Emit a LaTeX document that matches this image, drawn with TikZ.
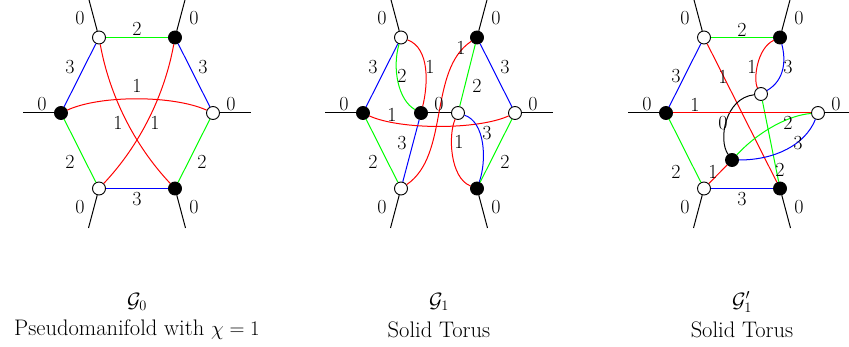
\documentclass[tikz,border=0pt]{standalone}
\usepackage{amsmath}
\begin{document}
\begin{tikzpicture}[x=1pt,y=-1pt,line width=1pt,
  every node/.style={font=\fontsize{20}{24}\selectfont},
  wv/.style={circle,draw=black,fill=white,inner sep=0pt,minimum size=13pt,line width=0.9pt},
  bv/.style={circle,draw=black,fill=black,inner sep=0pt,minimum size=13pt,line width=0.9pt},
  lab/.style={inner sep=0pt},
  captext/.style={font=\fontsize{22.5}{27}\selectfont,inner sep=0pt}]
\useasboundingbox (0,0) rectangle (849,347);

% ---------------- G0 ----------------
\begin{scope}[shift={(137,0)}]
\node[wv] (a-tl) at (-38,37.5) {};
\node[bv] (a-tr) at (38,37.5) {};
\node[bv] (a-l) at (-76,113) {};
\node[wv] (a-r) at (76,113) {};
\node[wv] (a-bl) at (-38,188.5) {};
\node[bv] (a-br) at (38,188.5) {};
\coordinate (a-tle) at (-48.5,-2);
\coordinate (a-tre) at (48.5,-2);
\coordinate (a-le) at (-114,113);
\coordinate (a-re) at (114,113);
\coordinate (a-ble) at (-48.5,228);
\coordinate (a-bre) at (48.5,228);
\draw (a-tl) -- (a-tle); \draw (a-tr) -- (a-tre);
\draw (a-l) -- (a-le); \draw (a-r) -- (a-re);
\draw (a-bl) -- (a-ble); \draw (a-br) -- (a-bre);
\draw[green] (a-tl) -- (a-tr);
\draw[blue] (a-tl) -- (a-l);
\draw[blue] (a-tr) -- (a-r);
\draw[green] (a-l) -- (a-bl);
\draw[green] (a-r) -- (a-br);
\draw[blue] (a-bl) -- (a-br);
\draw[red] (a-l) .. controls (-37,95) and (36,95) .. (a-r);
\draw[red] (a-tl) .. controls (-27.6,95) and (-3,145) .. (a-br);
\draw[red] (a-tr) .. controls (27.6,95) and (3,145) .. (a-bl);
\node[lab] (a-0a) at (-57,18) {0};
\node[lab] (a-0b) at (57,18) {0};
\node[lab] (a-0c) at (-95,104) {0};
\node[lab] (a-0d) at (94,104) {0};
\node[lab] (a-0e) at (-57,207) {0};
\node[lab] (a-0f) at (57,207) {0};
\node[lab] (a-2t) at (0,29) {2};
\node[lab] (a-3l) at (-67,67) {3};
\node[lab] (a-3r) at (66,67) {3};
\node[lab] (a-1t) at (0,86) {1};
\node[lab] (a-1l) at (-19,123) {1};
\node[lab] (a-1r) at (18,123) {1};
\node[lab] (a-2l) at (-67,162) {2};
\node[lab] (a-2r) at (65,162) {2};
\node[lab] (a-3b) at (0,199) {3};
\node[captext] (a-name) at (0,302) {$\mathcal{G}_0$};
\node[captext] (a-cap) at (0,330) {Pseudomanifold with $\chi = 1$};
\end{scope}

% ---------------- G1 ----------------
\begin{scope}[shift={(439,0)}]
\node[wv] (b-tl) at (-38,37.5) {};
\node[bv] (b-tr) at (38,37.5) {};
\node[bv] (b-l) at (-76,113) {};
\node[wv] (b-r) at (76,113) {};
\node[wv] (b-bl) at (-38,188.5) {};
\node[bv] (b-br) at (38,188.5) {};
\node[bv] (b-m1) at (-18,113) {};
\node[wv] (b-m2) at (19,113) {};
\coordinate (b-tle) at (-48.5,-2);
\coordinate (b-tre) at (48.5,-2);
\coordinate (b-le) at (-114,113);
\coordinate (b-re) at (114,113);
\coordinate (b-ble) at (-48.5,228);
\coordinate (b-bre) at (48.5,228);
\draw (b-tl) -- (b-tle); \draw (b-tr) -- (b-tre);
\draw (b-l) -- (b-le); \draw (b-r) -- (b-re);
\draw (b-bl) -- (b-ble); \draw (b-br) -- (b-bre);
\draw (b-m1) -- (b-m2);
\draw[blue] (b-tl) -- (b-l);
\draw[green] (b-tl) .. controls (-47,68) and (-41,100) .. (b-m1);
\draw[red] (b-tl) .. controls (-9,48) and (-11,85) .. (b-m1);
\draw[green] (b-l) -- (b-bl);
\draw[blue] (b-m1) -- (b-bl);
\draw[red] (b-l) .. controls (-39,130) and (39,130) .. (b-r);
\draw[red] (b-bl) .. controls (11,155) and (-11,70) .. (b-tr);
\draw[green] (b-tr) -- (b-m2);
\draw[blue] (b-tr) -- (b-r);
\draw[red] (b-m2) .. controls (9,135) and (11,178) .. (b-br);
\draw[blue] (b-m2) .. controls (46,122) and (48,160) .. (b-br);
\draw[green] (b-r) -- (b-br);
\node[lab] (b-0a) at (-57,18) {0};
\node[lab] (b-0b) at (57,18) {0};
\node[lab] (b-0c) at (-95,104) {0};
\node[lab] (b-0d) at (94,104) {0};
\node[lab] (b-0e) at (-57,207) {0};
\node[lab] (b-0f) at (57,207) {0};
\node[lab] (b-0m) at (0,104) {0};
\node[lab] (b-3a) at (-66,67) {3};
\node[lab] (b-2a) at (-37,76) {2};
\node[lab] (b-1a) at (-9,67) {1};
\node[lab] (b-1b) at (22,48) {1};
\node[lab] (b-2b) at (38,86) {2};
\node[lab] (b-3b) at (66,67) {3};
\node[lab] (b-1c) at (-47,115) {1};
\node[lab] (b-3c) at (-37,143) {3};
\node[lab] (b-2c) at (-66,162) {2};
\node[lab] (b-1d) at (20,142) {1};
\node[lab] (b-3d) at (48,133) {3};
\node[lab] (b-2d) at (66,162) {2};
\node[captext] (b-name) at (0,302) {$\mathcal{G}_1$};
\node[captext] (b-cap) at (0,330) {Solid Torus};
\end{scope}

% ---------------- G1' ----------------
\begin{scope}[shift={(742,0)}]
\node[wv] (c-tl) at (-38,37.5) {};
\node[bv] (c-tr) at (38,37.5) {};
\node[bv] (c-l) at (-76,113) {};
\node[wv] (c-r) at (76,113) {};
\node[wv] (c-bl) at (-38,188.5) {};
\node[bv] (c-br) at (38,188.5) {};
\node[wv] (c-m) at (19,94) {};
\node[bv] (c-n) at (-10,160) {};
\coordinate (c-tle) at (-48.5,-2);
\coordinate (c-tre) at (48.5,-2);
\coordinate (c-le) at (-114,113);
\coordinate (c-re) at (114,113);
\coordinate (c-ble) at (-48.5,228);
\coordinate (c-bre) at (48.5,228);
\draw (c-tl) -- (c-tle); \draw (c-tr) -- (c-tre);
\draw (c-l) -- (c-le); \draw (c-r) -- (c-re);
\draw (c-bl) -- (c-ble); \draw (c-br) -- (c-bre);
\draw[green] (c-tl) -- (c-tr);
\draw[blue] (c-tl) -- (c-l);
\draw[red] (c-tl) -- (c-br);
\draw[red] (c-tr) .. controls (15,48) and (11,80) .. (c-m);
\draw[blue] (c-tr) .. controls (44,60) and (43,80) .. (c-m);
\draw (c-m) .. controls (-17,98) and (-24,140) .. (c-n);
\draw[green] (c-m) -- (c-br);
\draw[red] (c-l) -- (c-r);
\draw[green] (c-l) -- (c-bl);
\draw[red] (c-bl) -- (c-n);
\draw[blue] (c-bl) -- (c-br);
\draw[green] (c-n) .. controls (18,130) and (48,115) .. (c-r);
\draw[blue] (c-n) .. controls (33,160) and (63,145) .. (c-r);
\node[lab] (c-0a) at (-57,18) {0};
\node[lab] (c-0b) at (57,18) {0};
\node[lab] (c-0c) at (-95,104) {0};
\node[lab] (c-0d) at (94,104) {0};
\node[lab] (c-0e) at (-57,207) {0};
\node[lab] (c-0f) at (57,207) {0};
\node[lab] (c-2a) at (0,30) {2};
\node[lab] (c-3a) at (-66,76) {3};
\node[lab] (c-1a) at (-19,77) {1};
\node[lab] (c-1b) at (10,67) {1};
\node[lab] (c-3b) at (46,67) {3};
\node[lab] (c-1c) at (-47,105) {1};
\node[lab] (c-0m) at (-19,123) {0};
\node[lab] (c-2b) at (46,123) {2};
\node[lab] (c-3c) at (56,143) {3};
\node[lab] (c-2c) at (-66,172) {2};
\node[lab] (c-1d) at (-29,172) {1};
\node[lab] (c-2d) at (38,170) {2};
\node[lab] (c-3d) at (0,199) {3};
\node[captext] (c-name) at (0,302) {$\mathcal{G}_1'$};
\node[captext] (c-cap) at (0,330) {Solid Torus};
\end{scope}
\end{tikzpicture}
\end{document}
